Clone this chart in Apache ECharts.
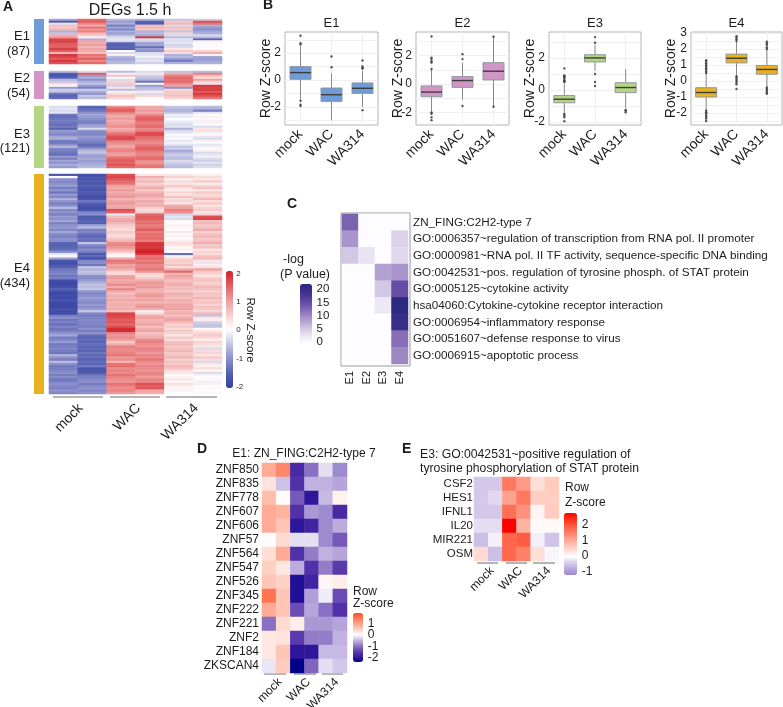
<!DOCTYPE html>
<html>
<head>
<meta charset="utf-8">
<title>DEGs 1.5 h</title>
<style>html,body{margin:0;padding:0;background:#fff}#chart{width:783px;height:707px}</style>
<script src="https://cdn.jsdelivr.net/npm/echarts@6/dist/echarts.min.js"></script>
</head>
<body>
<div id="chart"></div>
<script>
// Sample groups
const groups = ['mock', 'WAC', 'WA314'];
const samples = ['mock1', 'mock2', 'WAC1', 'WAC2', 'WA3141', 'WA3142'];

// Panel A: row Z-scores per cluster, one array per sample column
const e1Columns = [
  [-0.8,-1.6,-0.2,0.7,0.6,0.8,-0.7,-0.5,0.9,1.1,1.8,1.9,1.7,1.6,1.6,1.9,1.6,0.8,1.9,1.8,1.6,1.9,1.7],
  [1.5,1.6,1.3,0.9,1.4,1.1,1.3,0.8,0.6,0.2,-0.7,1.0,0.9,1.1,0.8,1.0,0.9,0.7,1.4,1.3,1.6,1.2,1.5],
  [-0.6,-0.9,-0.7,-1.2,-0.8,-1.1,-0.7,-0.9,-0.6,-0.3,-0.2,-0.3,-1.5,-1.6,-1.5,-1.6,0.0,-0.3,0.2,-0.6,-0.8,-0.7,-0.6],
  [-0.7,-1.5,-1.6,0.7,0.8,0.6,-0.7,-0.6,-0.8,1.9,-0.3,-0.4,-0.9,-0.8,-1.4,-0.9,-1.0,-0.3,-0.2,-0.1,-0.3,-0.2,-0.4],
  [-0.5,0.6,0.8,-0.3,0.7,0.6,-0.5,0.5,-0.3,-0.6,-0.2,-0.3,-0.2,-0.4,-0.3,0.3,0.6,0.4,-0.7,-0.6,-0.9,-1.3,-0.7],
  [-0.4,1.7,1.4,-0.7,-0.9,-1.0,-0.8,-0.7,-0.3,-0.6,-1.5,0.2,0.1,0.0,0.1,0.0,0.5,0.9,0.1,-0.8,-0.9,-0.8,-0.7]
];
const e2Columns = [
  [-0.6,-1.6,-1.7,-1.5,-0.6,-0.5,0.4,0.1,-0.9,-0.4,-0.5,-1.3,-1.5,-1.4],
  [-0.3,1.6,-0.9,-0.7,-1.0,-0.7,-0.5,-0.9,-1.2,-0.4,-0.7,-1.0,-0.5,-0.6],
  [-0.6,0.2,0.7,0.0,-0.3,0.5,0.6,-0.4,0.3,-0.6,0.2,0.4,0.7,0.5],
  [-0.3,0.3,-0.4,-0.5,-0.7,-1.3,0.1,-0.9,-0.6,-0.5,0.2,-0.3,0.5,0.1],
  [-0.5,0.9,1.3,1.5,1.4,1.5,1.2,1.0,-1.0,0.4,0.6,0.6,0.7,0.5],
  [-0.6,1.3,0.7,0.4,1.0,0.5,-0.2,1.9,1.8,1.9,1.6,1.9,1.7,1.4]
];
const e3Columns = [
  [-0.3,-0.2,-0.3,-0.2,-1.3,-1.4,-1.3,-1.2,-1.3,-1.4,-1.2,-1.5,-0.9,-1.0,-1.1,-0.8,-0.7,-1.2,-1.3,-1.0,-0.6,-1.1,-1.2,-1.3,-1.4,-0.9,-1.2,-0.8,-1.0,-0.7,-0.9],
  [-1.5,-1.4,-1.3,-1.0,-0.8,-0.9,-1.0,-1.1,-1.2,-0.9,-0.8,-0.3,-1.0,-1.1,-1.1,-0.9,-1.0,-1.1,-1.2,-1.4,-1.3,-0.9,-0.6,-0.5,-0.8,-0.9,-0.7,-0.9,-0.8,-0.7,-0.6],
  [1.2,1.5,1.6,1.3,1.0,0.9,1.1,0.9,1.0,1.1,1.2,0.9,1.0,1.3,1.5,1.7,1.8,1.4,1.2,1.1,0.9,1.2,1.3,1.1,1.0,1.3,1.5,1.6,1.5,1.7,1.5],
  [1.0,0.9,1.1,0.9,1.2,1.5,1.6,1.5,1.3,1.4,1.5,1.2,1.3,1.7,1.8,1.5,1.4,1.3,1.2,1.3,1.5,1.6,1.4,1.3,1.2,1.4,1.5,1.2,1.1,1.3,1.4],
  [-0.5,-0.6,-0.7,-0.5,-0.1,-0.2,0.0,-0.1,-0.2,-0.3,-0.2,-0.7,-0.3,-0.2,0.0,-0.1,0.1,-0.2,-0.1,-0.2,-0.5,-0.4,-0.8,-0.6,-0.4,-0.5,-0.6,-0.3,-0.4,-0.5,-0.6],
  [-0.6,-0.7,-1.2,-0.2,0.1,0.2,0.1,-0.1,0.2,0.0,-0.3,0.3,0.4,-0.1,0.1,-0.2,-0.3,0.2,0.0,-0.2,-0.1,0.1,0.2,-0.3,-0.2,-0.1,-0.3,-0.4,-0.2,-0.4,-0.3]
];
const e4Mock1 = [
  -1.7,0.0,-1.0,-1.1,-1.0,-0.9,-1.2,-1.0,-1.3,-0.9,
  -1.1,-0.7,-1.0,-1.2,-1.0,-0.6,-1.1,-1.0,-1.2,-0.9,
  -1.0,-0.8,-1.2,-1.0,-0.9,-1.1,-0.8,-1.1,-1.2,-1.0,
  -1.0,-1.5,-1.6,-1.5,-1.4,-1.0,-0.2,0.1,-0.8,-1.7,
  -1.8,-1.7,-1.6,-1.3,-1.2,-1.1,-1.3,-1.2,-1.8,-1.9,
  -1.9,-1.8,-1.6,-1.8,-1.9,-1.8,-1.9,-1.8,-1.9,-1.9,
  -1.9,-1.8,-1.9,-1.9,-1.2,-1.0,-1.3,-1.2,-1.4,-1.1,
  -1.3,-1.2,-1.0,-0.8,-1.2,-1.1,-0.9,-1.3,-1.2,-1.1,
  -1.2,-1.3,-0.7,-1.0,-1.2,-0.6,-1.0,-1.3,-1.2,-1.1,
  -1.0,-1.2,-1.1,-1.3,-1.2,-1.0,-1.1,-1.2,-1.0,-1.1
];
const e4Mock2 = [
  -1.8,-1.7,-1.8,-1.6,-1.7,-1.5,-1.7,-1.8,-1.6,-1.7,
  -1.8,-1.7,-1.3,-1.6,-1.7,-1.8,-1.7,-1.2,-1.0,-1.6,
  -1.6,-1.5,-1.6,-0.8,-0.6,-1.2,-1.1,-1.4,-1.5,-1.3,
  -1.4,-0.5,-1.1,-1.3,-1.0,-1.2,-1.6,-1.5,-1.8,-1.1,
  -1.0,-1.3,-0.5,-0.7,-0.5,-0.6,-1.0,-1.1,-0.9,-0.7,
  -0.5,-0.6,-0.5,-1.0,-1.1,-1.0,-0.9,-1.0,-1.1,-0.9,
  -1.0,-0.9,-0.5,-1.1,-1.2,-1.1,-1.1,-1.2,-1.1,-1.2,
  -1.0,-1.2,-1.0,-1.4,-1.5,-1.4,-1.5,-1.4,-1.5,-1.4,
  -1.5,-1.3,-1.5,-1.4,-1.5,-1.4,-1.5,-1.3,-1.7,-1.7,
  -1.6,-1.3,-1.2,-1.1,-1.0,-1.2,-1.1,-1.0,-1.1,-1.0
];
const e4Wac1 = [
  1.7,1.8,1.7,1.5,1.4,1.0,0.9,1.1,0.9,1.0,
  1.1,0.8,1.0,1.1,0.9,1.0,1.7,1.6,-0.2,0.7,
  0.9,1.0,0.8,0.6,0.5,0.4,0.6,0.5,0.4,0.6,
  0.8,1.2,1.3,1.1,0.9,0.6,0.2,0.1,0.9,1.4,
  1.3,1.0,1.1,0.9,0.5,0.4,1.0,1.1,0.9,1.0,
  1.2,0.9,1.3,0.9,0.7,0.9,0.8,1.0,0.8,0.9,
  0.8,0.9,0.7,1.8,1.8,1.7,1.6,1.7,1.5,1.7,
  2.0,2.0,1.3,1.1,1.2,1.0,0.6,0.9,1.3,1.2,
  1.2,1.3,1.4,1.1,1.2,0.8,1.4,1.5,1.2,1.3,
  1.2,1.4,1.3,1.2,1.1,1.4,1.3,1.2,1.3,1.1
];
const e4Wac2 = [
  0.3,0.9,0.6,0.8,0.5,0.7,0.9,0.6,0.8,1.0,
  0.9,0.7,1.0,0.8,0.9,0.5,0.4,0.5,1.5,1.6,
  1.6,1.4,1.5,1.3,1.4,1.6,1.3,1.5,1.4,1.5,
  1.3,1.9,2.0,1.9,2.0,2.1,1.9,1.4,1.5,1.3,
  1.4,1.2,1.3,1.4,1.1,0.5,0.4,0.6,0.9,1.1,
  1.0,1.1,0.9,0.8,1.0,1.1,0.9,1.0,0.8,1.0,
  1.1,0.9,0.2,0.4,0.9,1.0,0.8,0.9,1.0,0.7,
  0.9,1.0,0.7,0.8,0.9,1.2,1.3,1.2,1.1,1.3,
  1.2,1.1,1.3,1.2,1.4,1.2,1.1,1.3,1.2,1.1,
  1.3,1.2,1.1,1.3,1.2,1.7,1.6,1.7,1.0,0.9
];
const e4Wa1 = [
  0.3,0.5,0.2,0.4,0.3,0.6,0.4,0.2,0.5,0.3,
  0.7,0.4,0.5,0.3,0.9,1.0,1.3,1.2,-0.4,-0.2,
  -0.3,0.1,0.0,0.2,0.1,0.0,0.3,0.1,0.2,0.0,
  0.2,0.4,0.3,0.1,0.2,0.0,-1.4,0.2,0.4,0.6,
  0.5,0.7,0.4,0.9,1.5,0.8,1.0,0.9,0.7,0.8,
  0.9,0.7,0.8,0.6,0.9,0.8,0.7,0.9,0.8,1.0,
  0.9,1.0,0.8,0.9,0.7,0.9,1.0,0.8,0.5,0.6,
  0.4,0.6,0.5,0.3,0.6,0.4,0.7,0.8,0.6,0.7,
  0.8,0.6,0.7,0.8,0.5,0.7,0.6,0.8,0.7,0.4,
  0.3,0.1,0.2,0.3,0.1,0.4,0.2,0.1,0.2,0.0
];
const e4Wa2 = [
  0.2,0.4,0.3,0.6,0.2,0.5,0.7,0.3,0.6,0.4,
  0.5,0.8,0.4,0.6,0.3,0.5,0.6,0.3,0.5,1.7,
  1.8,0.7,0.8,0.6,0.7,0.9,0.5,0.7,0.8,0.6,
  0.7,0.9,0.6,0.7,0.3,0.5,0.4,0.7,0.8,0.3,
  -0.2,0.2,0.4,1.0,0.6,0.5,0.3,0.6,0.7,0.5,
  0.6,0.8,0.7,0.5,0.7,0.6,0.8,0.6,0.7,0.5,
  0.7,0.6,0.5,0.8,-0.5,0.3,0.2,-0.4,-0.5,-0.5,
  0.1,0.3,0.5,0.6,0.4,0.2,0.5,0.4,0.3,-0.3,
  0.4,0.5,0.3,0.6,0.4,-0.3,0.3,0.2,0.4,0.1,
  -0.3,0.2,0.0,0.1,-0.1,0.2,0.0,0.1,0.0,0.1
];
const e4Columns = [e4Mock1, e4Mock2, e4Wac1, e4Wac2, e4Wa1, e4Wa2];

// Panel B: [low whisker, Q1, median, Q3, high whisker] per group, plus outliers
const e1Box = [[-1.45,0.05,0.55,1.0,2.5],[-3.0,-1.6,-1.1,-0.6,0.5],[-2.0,-1.0,-0.62,-0.22,0.7]];
const e1Out = [[3.3,2.75,2.65,-1.55,-1.85,-1.95],[1.75,0.95],[1.45,1.0,0.9,0.85,-2.25]];
const e2Box = [[-1.95,-0.9,-0.57,-0.14,1.0],[-1.1,-0.24,0.24,0.52,1.5],[-1.6,0.28,0.9,1.5,3.33]];
const e2Out = [[3.35,1.85,1.75,1.6,1.5,1.05,-2.0,-2.1,-2.35,-2.55],[2.1,1.75,-1.55],[3.33,-1.6]];
const e3Box = [[-1.45,-0.8,-0.58,-0.35,0.4],[1.2,1.75,2.0,2.2,2.8],[-1.15,-0.17,0.15,0.45,1.3]];
const e3Out = [[1.35,0.9,0.85,0.8,0.7,0.6,0.55,0.5,-1.5,-1.6,-1.7,-1.95],[3.3,2.95,1.0,0.5,0.25],[-1.25,-1.3,-1.4]];
const e4Box = [[-1.85,-1.0,-0.72,-0.42,0.45],[0.35,1.13,1.42,1.68,2.45],[-0.35,0.42,0.72,0.97,1.95]];
const e4Out = [
  [1.3,1.2,1.1,1.0,0.9,0.8,0.7,0.6,0.5,-1.85,-1.95,-2.05,-2.15,-2.25,-2.35,-2.5],
  [2.8,2.7,2.6,2.5,0.3,0.2,0.1,0.0,-0.1,-0.2,-0.5],
  [2.45,2.35,2.25,2.1,2.0,-0.4,-0.5,-0.6,-0.7,-0.8]
];

// Panel C: -log(P value) enrichment per cluster
const termClusters = ['E1', 'E2', 'E3', 'E4'];
const terms = [
  'ZN_FING:C2H2-type 7',
  'GO:0006357~regulation of transcription from RNA pol. II promoter',
  'GO:0000981~RNA pol. II TF activity, sequence-specific DNA binding',
  'GO:0042531~pos. regulation of tyrosine phosph. of STAT protein',
  'GO:0005125~cytokine activity',
  'hsa04060:Cytokine-cytokine receptor interaction',
  'GO:0006954~inflammatory response',
  'GO:0051607~defense response to virus',
  'GO:0006915~apoptotic process'
];
const termValues = [
  [13,0,0,0],
  [9,0,0,4],
  [5,2.5,0,3.5],
  [0,0,8,9],
  [0,0,5,15],
  [0,0,2,22],
  [0,0,0,20],
  [0,0,0,12],
  [0,0,0,10]
];

// Panel D: zinc finger genes in E1
const znfGenes = ['ZNF850','ZNF835','ZNF778','ZNF607','ZNF606','ZNF57','ZNF564','ZNF547','ZNF526','ZNF345','ZNF222','ZNF221','ZNF2','ZNF184','ZKSCAN4'];
const znfValues = [
  [0.9,1.3,-1.7,-1.0,-0.2,-0.8],
  [0.3,-0.4,-1.6,-0.5,-0.5,-0.6],
  [0.7,0.05,-1.2,-2.0,-0.45,0.15],
  [0.9,0.8,-1.6,-0.7,-0.8,-1.7],
  [0.9,0.6,-2.0,-1.8,-0.8,-0.55],
  [0.05,0.4,-0.2,-0.2,-0.8,-1.2],
  [0.35,0.9,-1.6,-0.9,-0.5,-0.6],
  [0.5,0.25,-0.55,-1.6,-0.9,-1.5],
  [0.6,0.5,-2.1,-1.8,0.1,0.2],
  [1.5,0.6,-2.1,-0.65,-0.1,-1.3],
  [0.9,0.6,-1.3,-0.6,-1.0,-1.6],
  [-1.0,0.4,0.2,-0.7,-0.7,-0.6],
  [0.25,0.3,-1.5,-0.9,-0.9,-0.5],
  [0.25,0.6,-2.0,-2.0,-0.45,-0.45],
  [-0.15,0.55,-2.37,-1.1,-0.2,-0.35]
];

// Panel E: STAT-related genes in E3
const statGenes = ['CSF2','HES1','IFNL1','IL20','MIR221','OSM'];
const statValues = [
  [-0.5,-0.5,1.6,1.2,0.35,0.6],
  [-0.5,-0.35,1.1,1.6,0.55,0.55],
  [-0.5,-0.5,1.7,1.3,0.1,0.6],
  [-0.3,-0.3,2.77,0.9,0.05,0.05],
  [-0.6,-0.15,1.8,1.9,-0.15,-0.55],
  [0.4,-0.6,1.8,1.5,0.35,-0.1]
];

const FONT = '"Liberation Sans", Arial, sans-serif';
const INK = '#1c1c1c';
const clusterColors = {E1:'#6f9bd8', E2:'#d195c6', E3:'#b5d585', E4:'#eab020'};
const rampA = ['#333f9f','#5561b3','#8b8fcb','#c4c5e3','#ffffff','#f7cfcf','#ee9c9c','#e25f60','#d11f27'];
const rampC = ['#ffffff','#e6e0f0','#c8bbde','#a692c9','#8268b3','#5f459f','#3f2f8e','#2b2a80'];
const rampD = ['#00008b','#3b1c9e','#5f3fae','#8f78c6','#c5b8e2','#ffffff','#ffd0c4','#ffa48c','#ff7a58','#ff4c2a'];
const rampE = ['#9a84cc','#b9a9dc','#d9d0ec','#ffffff','#ffdcd4','#ffbdae','#ff9c88','#ff7a62','#ff573c','#ff2f1c','#ff0000'];

const grid = [], xAxis = [], yAxis = [], series = [], visualMap = [], graphic = [];

function addGrid(rect, xOpt, yOpt) {
  grid.push(Object.assign({containLabel:false}, rect));
  const i = grid.length - 1;
  xAxis.push(Object.assign({gridIndex:i}, xOpt));
  yAxis.push(Object.assign({gridIndex:i}, yOpt));
  return i;
}
function text(str, x, y, size, opt) {
  opt = opt || {};
  graphic.push({
    type:'text', x, y, rotation: opt.rot || 0, silent:true,
    style:{text:str, fill:opt.fill||INK, font:(opt.weight||'normal')+' '+size+'px '+FONT,
           textAlign:opt.align||'left', textVerticalAlign:'middle'}
  });
}
function rule(x1, x2, y) {
  graphic.push({type:'line', silent:true, shape:{x1, y1:y, x2, y2:y}, style:{stroke:'#6a6a6a', lineWidth:1}});
}
function heatSeries(gi, cells) {
  series.push({type:'heatmap', xAxisIndex:gi, yAxisIndex:gi, data:cells, silent:true, progressive:0, itemStyle:{borderWidth:0}});
  return series.length - 1;
}
function hiddenCat(data, extra) {
  return Object.assign({type:'category', data, show:false}, extra || {});
}
function columnCells(cols) {
  const cells = [];
  cols.forEach((col, c) => col.forEach((v, r) => cells.push([c, r, v])));
  return cells;
}
function rowCells(rows) {
  const cells = [];
  rows.forEach((row, r) => row.forEach((v, c) => cells.push([c, r, v])));
  return cells;
}
// Gradient legend; each tick set gets its own value axis, so tightly spaced labels all stay visible
function colorBar(rect, min, max, tickSets, colors, seriesIndex, labelSize) {
  visualMap.push({
    type:'continuous', min, max, seriesIndex, show:true, calculable:false, hoverLink:false, realtime:false,
    orient:'vertical', padding:0, left:rect.left, top:rect.top, itemWidth:rect.width, itemHeight:rect.height,
    text:null, inRange:{color:colors}
  });
  tickSets.forEach(ticks => addGrid(rect,
    {type:'value', show:false, min:0, max:1},
    {type:'value', position:'right', min, max,
     axisLine:{show:false}, splitLine:{show:false},
     axisTick:{show:false, customValues:ticks},
     axisLabel:{show:true, customValues:ticks, showMinLabel:true, showMaxLabel:true, hideOverlap:false,
                margin:labelSize*0.4, color:INK, fontFamily:FONT, fontSize:labelSize}}));
}
// Three group labels slanted under a heatmap, each with a bracket above it
function groupLabels(left, width, top, size, margin, brackets) {
  addGrid({left, width, top, height:1},
    {type:'category', data:groups, position:'bottom', axisLine:{show:false}, axisTick:{show:false},
     axisLabel:{rotate:45, interval:0, margin, color:INK, fontFamily:FONT, fontSize:size}},
    {type:'value', show:false, min:0, max:1});
  brackets.forEach(b => rule(b[0], b[1], b[2]));
}
// Box, whisker and median of one group, placed through the panel's axes
function renderBox(params, api) {
  const i = api.value(0);
  const halfWidth = 10.5;
  const top = api.coord([i, api.value(5)]);
  const q3 = api.coord([i, api.value(4)]);
  const med = api.coord([i, api.value(3)]);
  const q1 = api.coord([i, api.value(2)]);
  const low = api.coord([i, api.value(1)]);
  const cx = top[0];
  return {type:'group', children:[
    {type:'line', shape:{x1:cx, y1:top[1], x2:cx, y2:low[1]}, style:{stroke:'#8a8a8a', lineWidth:1}},
    {type:'rect', shape:{x:cx - halfWidth, y:q3[1], width:halfWidth * 2, height:q1[1] - q3[1]},
     style:{fill:api.visual('color'), stroke:'#8f98a0', lineWidth:1}},
    {type:'line', shape:{x1:cx - halfWidth, y1:med[1], x2:cx + halfWidth, y2:med[1]}, style:{stroke:'#3d3d3d', lineWidth:1.4}}
  ]};
}

// Panel A
text('A', 3, 7, 14, {weight:'bold'});
text('DEGs 1.5 h', 130, 11, 16, {align:'center'});
const blocks = [
  {name:'E1', n:'(87)', cols:e1Columns, top:19, h:45, y1:36, y2:51},
  {name:'E2', n:'(54)', cols:e2Columns, top:71, h:28, y1:78, y2:93},
  {name:'E3', n:'(121)', cols:e3Columns, top:106, h:62, y1:134, y2:148},
  {name:'E4', n:'(434)', cols:e4Columns, top:174, h:220, y1:268, y2:283}
];
const seriesA = [];
blocks.forEach(b => {
  const gi = addGrid({left:49, width:173, top:b.top, height:b.h},
    hiddenCat(samples),
    hiddenCat(b.cols[0].map((_, i) => i), {inverse:true}));
  seriesA.push(heatSeries(gi, columnCells(b.cols)));
  graphic.push({type:'rect', silent:true, shape:{x:34, y:b.top, width:10, height:b.h}, style:{fill:clusterColors[b.name]}});
  text(b.name, 30, b.y1, 13, {align:'right'});
  text(b.n, 30, b.y2, 13, {align:'right'});
});
colorBar({left:226, top:271, width:7, height:117}, -2.05, 2.1, [[-2,-1,0,1,2]], rampA, seriesA, 8);
text('Row Z-score', 250, 330, 11.5, {align:'center', rot:-Math.PI/2});
groupLabels(52, 173, 397, 14, 8, [[53,103,397],[110,160,397],[166,217,397]]);

// Panel B
text('B', 263, 5, 14, {weight:'bold'});
const boxPanels = [
  {name:'E1', box:e1Box, out:e1Out, left:285, width:93, min:-3.36, max:3.58, labels:[-2,0,2], lines:[-3,-2,-1,0,1,2,3], nameGap:12},
  {name:'E2', box:e2Box, out:e2Out, left:416, width:93, min:-2.89, max:3.66, labels:[-2,0,2], lines:[-2,-1,0,1,2,3], nameGap:11},
  {name:'E3', box:e3Box, out:e3Out, left:549, width:92, min:-2.19, max:3.62, labels:[-2,0,2], lines:[-2,-1,0,1,2,3], nameGap:12},
  {name:'E4', box:e4Box, out:e4Out, left:691, width:91, min:-2.75, max:3.06, labels:[-2,-1,0,1,2,3], lines:[-2.5,-2,-1.5,-1,-0.5,0,0.5,1,1.5,2,2.5,3], nameGap:13}
];
boxPanels.forEach(p => {
  const gi = addGrid({left:p.left, width:p.width, top:32, height:93, show:true, borderColor:'#b4b4b4', borderWidth:1, backgroundColor:'#fff'},
    {type:'category', data:groups, axisLine:{show:false},
     axisTick:{length:2, alignWithLabel:true, lineStyle:{color:'#b4b4b4'}},
     splitLine:{show:true, alignWithLabel:true, lineStyle:{color:'#efefef'}},
     axisLabel:{rotate:45, interval:0, margin:7, color:INK, fontFamily:FONT, fontSize:14}},
    {type:'value', min:p.min, max:p.max, name:'Row Z-score', nameLocation:'middle', nameGap:p.nameGap, nameMoveOverlap:false,
     nameTextStyle:{color:INK, fontFamily:FONT, fontSize:14},
     axisLine:{show:false},
     axisTick:{show:false, customValues:p.lines},
     splitLine:{show:true, lineStyle:{color:'#f0f0f0'}},
     axisLabel:{customValues:p.labels, margin:4, color:INK, fontFamily:FONT, fontSize:12}});
  series.push({type:'custom', xAxisIndex:gi, yAxisIndex:gi, silent:true, renderItem:renderBox,
    encode:{x:0, y:[1,2,3,4,5]}, itemStyle:{color:clusterColors[p.name]},
    data:p.box.map((b, i) => [i].concat(b))});
  const dots = [];
  p.out.forEach((vals, i) => vals.forEach(v => dots.push([i, v])));
  series.push({type:'scatter', xAxisIndex:gi, yAxisIndex:gi, silent:true, symbol:'circle', symbolSize:2.4,
    data:dots, itemStyle:{color:'#303030'}});
  text(p.name, p.left + p.width / 2, 23, 13, {align:'center'});
});

// Panel C
text('C', 287, 204, 14, {weight:'bold'});
graphic.push({type:'rect', silent:true, shape:{x:341, y:213, width:69, height:153}, style:{fill:'none', stroke:'#9a9a9a', lineWidth:1}});
const giC = addGrid({left:342, width:66, top:214, height:150},
  {type:'category', data:termClusters, axisLine:{show:false}, axisTick:{show:false},
   axisLabel:{rotate:90, interval:0, margin:7, color:INK, fontFamily:FONT, fontSize:11}},
  {type:'category', data:terms, inverse:true, position:'right', axisLine:{show:false}, axisTick:{show:false},
   axisLabel:{interval:0, margin:5, color:INK, fontFamily:FONT, fontSize:11.7}});
const seriesC = heatSeries(giC, rowCells(termValues));
colorBar({left:300, top:284, width:12, height:59}, -0.3, 22, [[0,5,10,15,20]], rampC, [seriesC], 11.5);
text('-log', 283, 260, 12.5);
text('(P value)', 280, 275, 12.5);

// Panel D
text('D', 197, 449, 14, {weight:'bold'});
text('E1: ZN_FING:C2H2-type 7', 304, 454, 12, {align:'center'});
const giD = addGrid({left:262, width:85, top:463, height:210},
  hiddenCat(samples),
  {type:'category', data:znfGenes, inverse:true, axisLine:{show:false}, axisTick:{show:false},
   axisLabel:{interval:0, margin:3, color:INK, fontFamily:FONT, fontSize:12}});
const seriesD = heatSeries(giD, rowCells(znfValues));
colorBar({left:353, top:613, width:10, height:49}, -2.37, 1.93, [[-2,0],[-1,1]], rampD, [seriesD], 12);
text('Row', 353, 592, 12);
text('Z-score', 353, 604, 12);
groupLabels(266, 85, 675, 12, 5, [[264,286,674],[294,316,674],[322,343,674]]);

// Panel E
text('E', 402, 449, 14, {weight:'bold'});
text('E3: GO:0042531~positive regulation of', 420, 455, 12.2);
text('tyrosine phosphorylation of STAT protein', 420, 469, 12.2);
const giE = addGrid({left:474, width:85, top:477, height:84},
  hiddenCat(samples),
  {type:'category', data:statGenes, inverse:true, axisLine:{show:false}, axisTick:{show:false},
   axisLabel:{interval:0, margin:1, color:INK, fontFamily:FONT, fontSize:11.5}});
const seriesE = heatSeries(giE, rowCells(statValues));
colorBar({left:564, top:513, width:13, height:62}, -1.22, 2.77, [[-1,0,1,2]], rampE, [seriesE], 12);
text('Row', 565, 488, 12);
text('Z-score', 565, 503, 12);
groupLabels(478, 85, 564, 12, 4, [[477,498,563],[506,527,563],[533,555,563]]);

const chart = echarts.init(document.getElementById('chart'), null, {renderer:'canvas'});
chart.setOption({
  animation:false, backgroundColor:'#fff', textStyle:{fontFamily:FONT},
  grid, xAxis, yAxis, series, visualMap, graphic
});
</script>
</body>
</html>
